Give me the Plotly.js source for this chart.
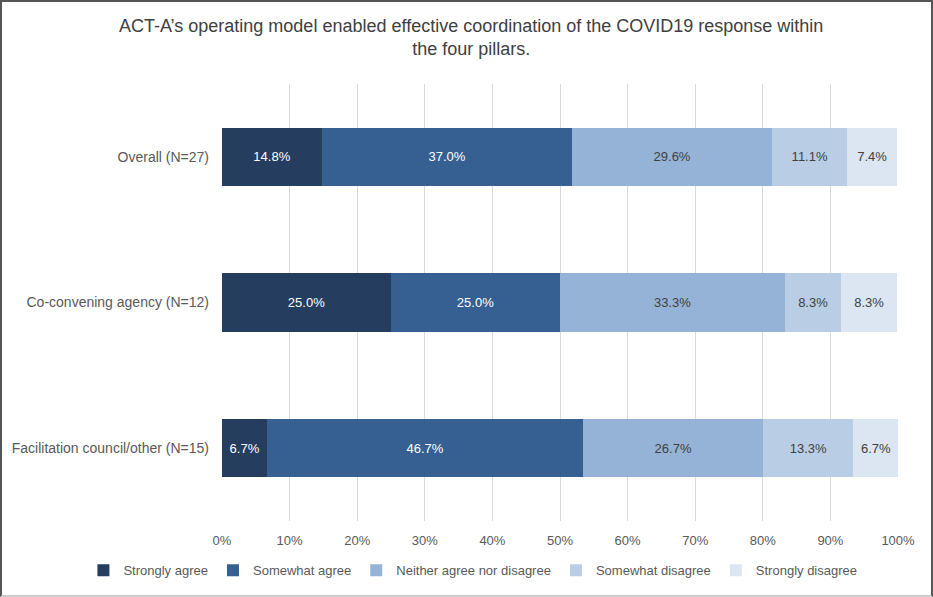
<!DOCTYPE html>
<html><head><meta charset="utf-8">
<script src="https://cdn.plot.ly/plotly-3.0.1.min.js"></script>
<style>
html,body{margin:0;padding:0;background:#fff;}
#frame{position:absolute;left:0;top:0;width:929px;height:593px;border-left:2px solid #555;border-top:2px solid #555;border-right:2px solid #555;border-bottom:2px solid #ccc;overflow:hidden;}
#chart{position:absolute;left:-2px;top:-2px;width:933px;height:597px;}
</style></head>
<body><div id="frame"><div id="chart"></div></div>
<script>
const categories = ["Overall (N=27)", "Co-convening agency (N=12)", "Facilitation council/other (N=15)"];
const seriesNames = ["Strongly agree", "Somewhat agree", "Neither agree nor disagree", "Somewhat disagree", "Strongly disagree"];
const stronglyAgree = [14.8, 25.0, 6.7];
const somewhatAgree = [37.0, 25.0, 46.7];
const neither = [29.6, 33.3, 26.7];
const somewhatDisagree = [11.1, 8.3, 13.3];
const stronglyDisagree = [7.4, 8.3, 6.7];
const tickVals = [0,10,20,30,40,50,60,70,80,90,100];
const tickText = ["0%","10%","20%","30%","40%","50%","60%","70%","80%","90%","100%"];

const colors = ["#253d5f", "#365f92", "#95b3d7", "#b9cde5", "#dce6f2"];
const textColors = ["#ffffff", "#ffffff", "#404040", "#404040", "#404040"];
const values = [stronglyAgree, somewhatAgree, neither, somewhatDisagree, stronglyDisagree];
const FONT = "Liberation Sans, Arial, sans-serif";

const traces = values.map((v, i) => ({
  type: "bar", orientation: "h", name: seriesNames[i],
  y: categories, x: v,
  marker: {color: colors[i], line: {width: 0}},
  texttemplate: "%{x:.1f}%", textposition: "inside", insidetextanchor: "middle",
  textfont: {color: textColors[i], size: 13, family: FONT},
  constraintext: "none",
  hoverinfo: "skip", width: 0.4
}));

const layout = {
  width: 933, height: 597,
  barmode: "stack", bargap: 0.6,
  paper_bgcolor: "rgba(0,0,0,0)", plot_bgcolor: "#fff",
  font: {family: FONT, color: "#595959", size: 13},
  margin: {l: 222, r: 35, t: 84, b: 76},
  title: {text: "ACT-A’s operating model enabled effective coordination of the COVID19 response within<br>the four pillars.",
    font: {size: 18, color: "#404040", family: FONT}, x: 0.505, xanchor: "center", y: 0.947, yanchor: "top"},
  xaxis: {range: [0, 100], tickvals: tickVals, ticktext: tickText, showgrid: true, gridcolor: "#d9d9d9", gridwidth: 1,
    zeroline: false, showline: false, ticks: "", ticklabelstandoff: 10, tickfont: {size: 13, color: "#595959"}, fixedrange: true},
  yaxis: {categoryorder: "array", categoryarray: categories, autorange: "reversed", showgrid: false, zeroline: false,
    ticks: "", ticklabelstandoff: 12, tickfont: {size: 14, color: "#595959"}},
  legend: {orientation: "h", x: -0.205, xanchor: "left", y: -0.113, yanchor: "middle",
    font: {size: 13, color: "#595959"}, traceorder: "normal", itemwidth: 30, tracegroupgap: 0},
  showlegend: true
};
Plotly.newPlot("chart", traces, layout, {displayModeBar: false, staticPlot: true});
</script></body></html>
